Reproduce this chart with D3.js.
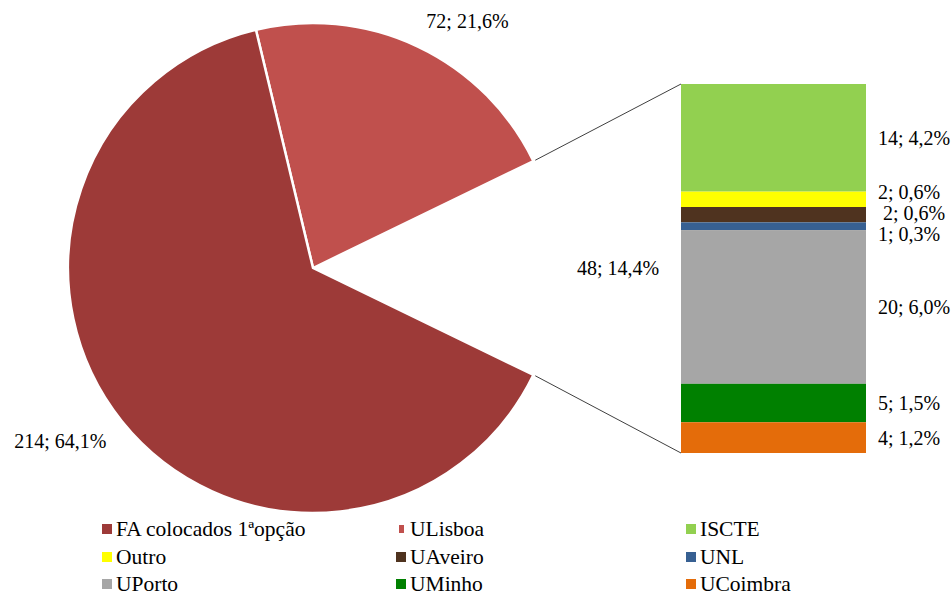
<!DOCTYPE html>
<meta charset="utf-8">
<style>
  body { margin: 0; background: #fff; }
  text { font-family: "Liberation Serif", "Times New Roman", serif; fill: #000; }
</style>
<body>
<svg class="chart"></svg>
<script src="https://cdn.jsdelivr.net/npm/d3@7"></script>
<script>

// Pie slices (the "Outras" slice is split into the bar)
var pieNames = ["ULisboa", "Outras", "FA colocados 1ªopção"];
var pieValues = [72, 48, 214];
var pieColors = ["#C0504D", "none", "#9D3A38"];

// Bar of pie (breakdown of "Outras"), top to bottom
var barNames = ["ISCTE", "Outro", "UAveiro", "UNL", "UPorto", "UMinho", "UCoimbra"];
var barValues = [14, 2, 2, 1, 20, 5, 4];
var barColors = ["#92D050", "#FFFF00", "#4F331F", "#376092", "#A6A6A6", "#008000", "#E46C0A"];

// Legend order (3 columns, row by row)
var legendNames = ["FA colocados 1ªopção", "ULisboa", "ISCTE",
                   "Outro", "UAveiro", "UNL",
                   "UPorto", "UMinho", "UCoimbra"];

var W = 952, H = 597;
var total = d3.sum(pieValues);
var fmt = function(v) { return v + "; " + (v / total * 100).toFixed(1).replace(".", ",") + "%"; };

var svg = d3.select(".chart").attr("width", W).attr("height", H);

// ---- pie ----
var cx = 313, cy = 268, r = 245;
var otherFrac = pieValues[1] / total;
var firstFrac = pieValues[0] / total;
// centre "Outras" on the bar side (3 o'clock)
var start = Math.PI / 2 - otherFrac * Math.PI - firstFrac * 2 * Math.PI;

var pie = d3.pie().sort(null)
    .startAngle(start)
    .endAngle(start + 2 * Math.PI);
var arcs = pie(pieValues);
var arc = d3.arc().innerRadius(0).outerRadius(r);

var g = svg.append("g").attr("transform", "translate(" + cx + "," + cy + ")");

g.selectAll("path")
    .data(arcs)
  .enter().append("path")
    .attr("d", arc)
    .attr("fill", function(d, i) { return pieColors[i]; })
    .attr("stroke", function(d, i) { return i == 1 ? "none" : "#fff"; })
    .attr("stroke-width", 2.5)
    .attr("stroke-linejoin", "miter");

// pie labels: outside end
function pt(a, rr) { return [rr * Math.sin(a), -rr * Math.cos(a)]; }
arcs.forEach(function(d, i) {
  var mid = (d.startAngle + d.endAngle) / 2;
  var t = g.append("text").style("font-size", "20px").text(fmt(pieValues[i]));
  if (i == 1) {
    var p = pt(mid, r + 60);
    t.attr("x", p[0]).attr("y", p[1] + 7).attr("text-anchor", "middle");
  } else {
    var p = pt(mid, r + 20);
    var s = Math.sin(mid), c = Math.cos(mid);
    t.attr("x", p[0]).attr("y", c > 0 ? p[1] : p[1] + 14)
     .attr("text-anchor", s >= 0 ? "start" : "end");
  }
});

// ---- bar ----
var bx0 = 681, bx1 = 866;
var y = d3.scaleLinear().domain([0, d3.sum(barValues)]).range([84, 453]);
var cum = d3.cumsum(barValues);
var segs = barValues.map(function(v, i) { return { v: v, y0: cum[i] - v, y1: cum[i], i: i }; });

svg.selectAll("rect.seg")
    .data(segs)
  .enter().append("rect")
    .attr("class", "seg")
    .attr("x", bx0)
    .attr("width", bx1 - bx0)
    .attr("y", function(d) { return y(d.y0); })
    .attr("height", function(d) { return y(d.y1) - y(d.y0); })
    .attr("fill", function(d) { return barColors[d.i]; });

// connector lines from the gap edges to the bar
var pa = pt(arcs[1].startAngle, r + 2), pb = pt(arcs[1].endAngle, r + 2);
svg.append("line")
    .attr("x1", cx + pa[0]).attr("y1", cy + pa[1])
    .attr("x2", bx0).attr("y2", y(0))
    .attr("stroke", "#404040").attr("stroke-width", 1);
svg.append("line")
    .attr("x1", cx + pb[0]).attr("y1", cy + pb[1])
    .attr("x2", bx0).attr("y2", y(d3.sum(barValues)))
    .attr("stroke", "#404040").attr("stroke-width", 1);

// bar labels, nudged apart where segments are thin
var ly = segs.map(function(d) { return (y(d.y0) + y(d.y1)) / 2; });
for (var k = 0; k < 50; k++) {
  for (var i = 1; i < ly.length; i++) {
    var gap = ly[i] - ly[i - 1];
    if (gap < 21) { var m = (21 - gap) / 2; ly[i - 1] -= m; ly[i] += m; }
  }
}
svg.selectAll("text.bl")
    .data(segs)
  .enter().append("text")
    .attr("class", "bl")
    .attr("x", function(d) { return d.i == 2 ? 883 : 878; })
    .attr("y", function(d) { return ly[d.i] + 7; })
    .style("font-size", "20px")
    .text(function(d) { return fmt(d.v); });

// ---- legend ----
var colorOf = {};
pieNames.forEach(function(n, i) { colorOf[n] = pieColors[i]; });
barNames.forEach(function(n, i) { colorOf[n] = barColors[i]; });

var colX = [102, 396, 686], rowY = [529, 557, 584];
var leg = svg.selectAll("g.leg")
    .data(legendNames)
  .enter().append("g")
    .attr("class", "leg")
    .attr("transform", function(d, i) { return "translate(" + colX[i % 3] + "," + rowY[Math.floor(i / 3)] + ")"; });

leg.append("rect")
    .attr("x", function(d) { return d == "ULisboa" ? 3 : 0; })
    .attr("y", function(d) { return d == "ULisboa" ? -4 : -5; })
    .attr("width", function(d) { return d == "ULisboa" ? 5 : 10; })
    .attr("height", function(d) { return d == "ULisboa" ? 8 : 10; })
    .attr("fill", function(d) { return colorOf[d]; });

leg.append("text")
    .attr("x", 14)
    .attr("y", 7)
    .style("font-size", "21.5px")
    .text(function(d) { return d; });

</script>
</body>
